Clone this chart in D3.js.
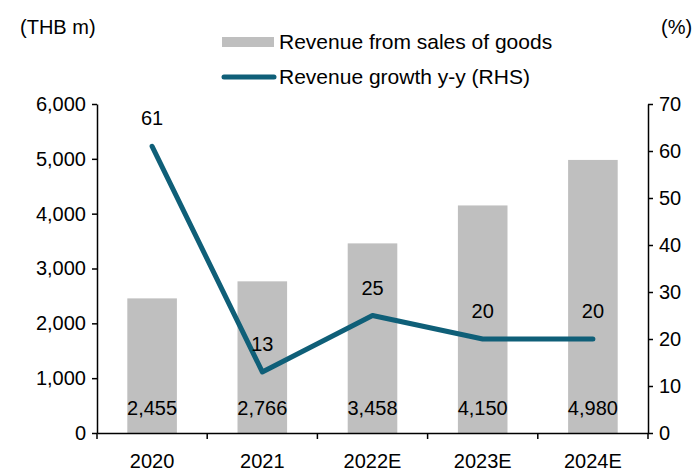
<!DOCTYPE html>
<html><head><meta charset="utf-8">
<script src="https://cdn.jsdelivr.net/npm/d3@7"></script>
<style>body{margin:0;background:#fff;} text{font-family:"Liberation Sans",Arial,sans-serif;fill:#000;}</style>
</head><body><svg id="c" width="699" height="473"></svg>
<script>
const categories = ["2020","2021","2022E","2023E","2024E"];
const revenue = [2455, 2766, 3458, 4150, 4980];
const growth = [61, 13, 25, 20, 20];
const leftTicks = [0,1000,2000,3000,4000,5000,6000];
const rightTicks = [0,10,20,30,40,50,60,70];
const seriesNames = ["Revenue from sales of goods","Revenue growth y-y (RHS)"];

const svg = d3.select("#c");
const L = 97, R = 648, T = 104, B = 433;
const fs = 20;
const lfs = 21;
const x = d3.scaleBand().domain(categories).range([L, R]).paddingInner(0.55).paddingOuter(0.275);
const xb = d3.scaleBand().domain(categories).range([L, R]);
const yL = d3.scaleLinear().domain([0,6000]).range([B, T]);
const yR = d3.scaleLinear().domain([0,70]).range([B, T]);

svg.selectAll("rect.bar").data(revenue).join("rect").attr("class","bar")
  .attr("x",(d,i)=>x(categories[i])).attr("width",x.bandwidth())
  .attr("y",d=>yL(d)).attr("height",d=>B-yL(d)).attr("fill","#bfbfbf");

svg.selectAll("text.bl").data(revenue).join("text").attr("class","bl")
  .attr("x",(d,i)=>xb(categories[i])+xb.bandwidth()/2).attr("y",415)
  .attr("text-anchor","middle").attr("font-size",fs).text(d=>d3.format(",")(d));

const line = d3.line().x((d,i)=>xb(categories[i])+xb.bandwidth()/2).y(d=>yR(d));
svg.append("path").datum(growth).attr("d",line).attr("fill","none")
  .attr("stroke","#0f5f78").attr("stroke-width",5).attr("stroke-linecap","round").attr("stroke-linejoin","round");

svg.selectAll("text.gl").data(growth).join("text").attr("class","gl")
  .attr("x",(d,i)=>xb(categories[i])+xb.bandwidth()/2).attr("y",d=>yR(d)-21)
  .attr("text-anchor","middle").attr("font-size",fs).text(d=>d);

// axes
const axL = svg.append("g").attr("transform",`translate(${L},0)`)
  .call(d3.axisLeft(yL).tickValues(leftTicks).tickFormat(d3.format(",")).tickSize(5).tickSizeOuter(0));
const axR = svg.append("g").attr("transform",`translate(${R},0)`)
  .call(d3.axisRight(yR).tickValues(rightTicks).tickSize(5).tickSizeOuter(0));
const axB = svg.append("g").attr("transform",`translate(0,${B})`)
  .call(d3.axisBottom(xb).tickSize(0).tickSizeOuter(0));
// boundary ticks
svg.append("g").selectAll("line").data(d3.range(categories.length+1)).join("line")
  .attr("x1",i=>L+i*xb.bandwidth()).attr("x2",i=>L+i*xb.bandwidth())
  .attr("y1",B).attr("y2",B+6).attr("stroke","#000").attr("stroke-width",1.5);
[axL,axR,axB].forEach(a=>{
  a.selectAll("path,line").attr("stroke","#000").attr("stroke-width",1.5);
  a.selectAll("text").attr("font-size",fs).attr("font-family","Liberation Sans, Arial, sans-serif").attr("fill","#000");
});
axL.selectAll("text").attr("x",-11);
axR.selectAll("text").attr("x",11);
axB.selectAll("text").attr("y",0).attr("dy","1.75em");

svg.append("text").attr("x",20).attr("y",34).attr("font-size",fs).text("(THB m)");
svg.append("text").attr("x",661).attr("y",34).attr("font-size",fs).text("(%)");

// legend
svg.append("rect").attr("x",222).attr("y",37).attr("width",52).attr("height",10).attr("fill","#bfbfbf");
svg.append("text").attr("x",279).attr("y",49).attr("font-size",lfs).text(seriesNames[0]);
svg.append("line").attr("x1",224).attr("x2",274).attr("y1",77).attr("y2",77).attr("stroke","#0f5f78").attr("stroke-width",5).attr("stroke-linecap","round");
svg.append("text").attr("x",279).attr("y",84).attr("font-size",lfs).text(seriesNames[1]);
</script></body></html>
